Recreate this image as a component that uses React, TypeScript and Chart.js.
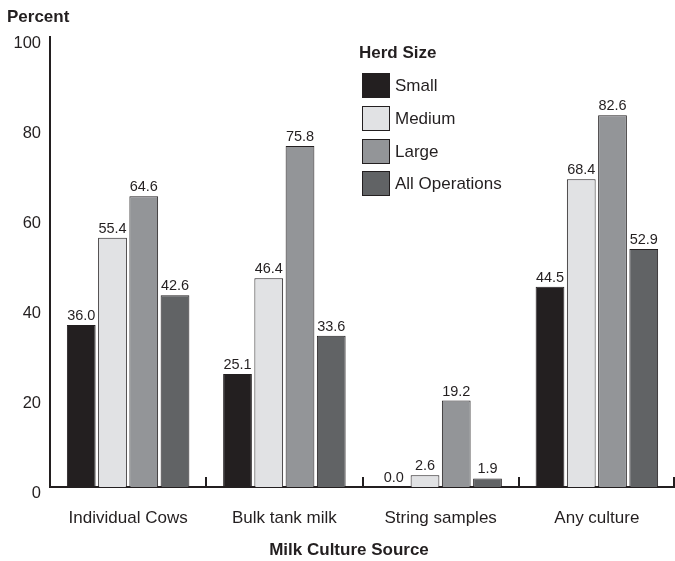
import React, { useEffect, useRef } from "react";
import { Chart, registerables } from "chart.js";

Chart.register(...registerables);

const categories = ["Individual Cows", "Bulk tank milk", "String samples", "Any culture"];
const seriesNames = ["Small", "Medium", "Large", "All Operations"];
const small = [36.0, 25.1, 0.0, 44.5];
const medium = [55.4, 46.4, 2.6, 68.4];
const large = [64.6, 75.8, 19.2, 82.6];
const allOps = [42.6, 33.6, 1.9, 52.9];
const yTicks = [0, 20, 40, 60, 80, 100];

const colors = ["#231f20", "#e1e2e4", "#939598", "#616365"];
const ink = "#231f20";
const FONT = "'Liberation Sans', Arial, Helvetica, sans-serif";

const overlayPlugin = {
  id: "overlay",
  afterDraw(chart: any) {
    const ctx = chart.ctx as CanvasRenderingContext2D;
    const area = chart.chartArea;
    ctx.save();
    // category boundary ticks (upward from axis)
    const n = categories.length;
    const catW = (area.right - area.left) / n;
    ctx.strokeStyle = ink;
    ctx.lineWidth = 2;
    for (let i = 1; i <= n; i++) {
      const x = Math.round(area.left + catW * i) - (i === n ? 1 : 0);
      ctx.beginPath();
      ctx.moveTo(x, area.bottom);
      ctx.lineTo(x, area.bottom - 10);
      ctx.stroke();
    }
    // value labels
    ctx.fillStyle = ink;
    ctx.font = `14.5px ${FONT}`;
    ctx.textAlign = "center";
    ctx.textBaseline = "alphabetic";
    chart.data.datasets.forEach((ds: any, di: number) => {
      const meta = chart.getDatasetMeta(di);
      meta.data.forEach((bar: any, i: number) => {
        const v = ds.data[i] as number;
        ctx.fillText(v.toFixed(1), bar.x, bar.y - 5);
      });
    });
    // legend
    ctx.textAlign = "left";
    ctx.textBaseline = "middle";
    ctx.font = `bold 17px ${FONT}`;
    ctx.fillText("Herd Size", 359, 53);
    ctx.font = `17px ${FONT}`;
    const boxTop = [73, 106, 139, 171];
    seriesNames.forEach((name, i) => {
      ctx.fillStyle = colors[i];
      ctx.fillRect(362, boxTop[i], 28, 25);
      ctx.strokeStyle = ink;
      ctx.lineWidth = 1;
      ctx.strokeRect(362.5, boxTop[i] + 0.5, 27, 24);
      ctx.fillStyle = ink;
      ctx.fillText(name, 395, boxTop[i] + 13);
    });
    // titles
    ctx.font = `bold 17px ${FONT}`;
    ctx.textAlign = "left";
    ctx.fillText("Percent", 7, 17);
    ctx.textAlign = "center";
    ctx.fillText("Milk Culture Source", 349, 550);
    ctx.restore();
  },
};

export default function App() {
  const ref = useRef<HTMLCanvasElement | null>(null);
  useEffect(() => {
    if (!ref.current) return;
    const data = [small, medium, large, allOps];
    const chart = new Chart(ref.current, {
      type: "bar",
      data: {
        labels: categories,
        datasets: seriesNames.map((name, i) => ({
          label: name,
          data: data[i],
          backgroundColor: colors[i],
          borderColor: ink,
          borderWidth: 1,
          categoryPercentage: 0.8,
          barPercentage: 0.92,
        })),
      },
      options: {
        animation: false,
        responsive: false,
        devicePixelRatio: 1,
        layout: { padding: { top: 37, right: 0, left: 0, bottom: 0 } },
        plugins: { legend: { display: false }, tooltip: { enabled: false } },
        scales: {
          x: {
            grid: { display: false, drawTicks: false },
            border: { display: true, color: ink, width: 2 },
            ticks: { color: ink, font: { family: FONT, size: 17 }, padding: 21, maxRotation: 0 },
            afterFit(scale: any) {
              scale.height = 74;
            },
          },
          y: {
            min: 0,
            max: 100,
            afterBuildTicks(scale: any) {
              scale.ticks = yTicks.map((v) => ({ value: v }));
            },
            grid: { display: false, drawTicks: false },
            border: { display: true, color: ink, width: 2 },
            ticks: { color: ink, font: { family: FONT, size: 16.5 }, padding: 9, labelOffset: 6 },
            afterFit(scale: any) {
              scale.width = 50;
            },
          },
        },
      },
      plugins: [overlayPlugin],
    });
    return () => chart.destroy();
  }, []);
  return (
    <div style={{ position: "fixed", left: 0, top: 0, width: 675, height: 561, background: "#fff" }}>
      <canvas ref={ref} width={675} height={561} style={{ width: 675, height: 561 }} />
    </div>
  );
}
